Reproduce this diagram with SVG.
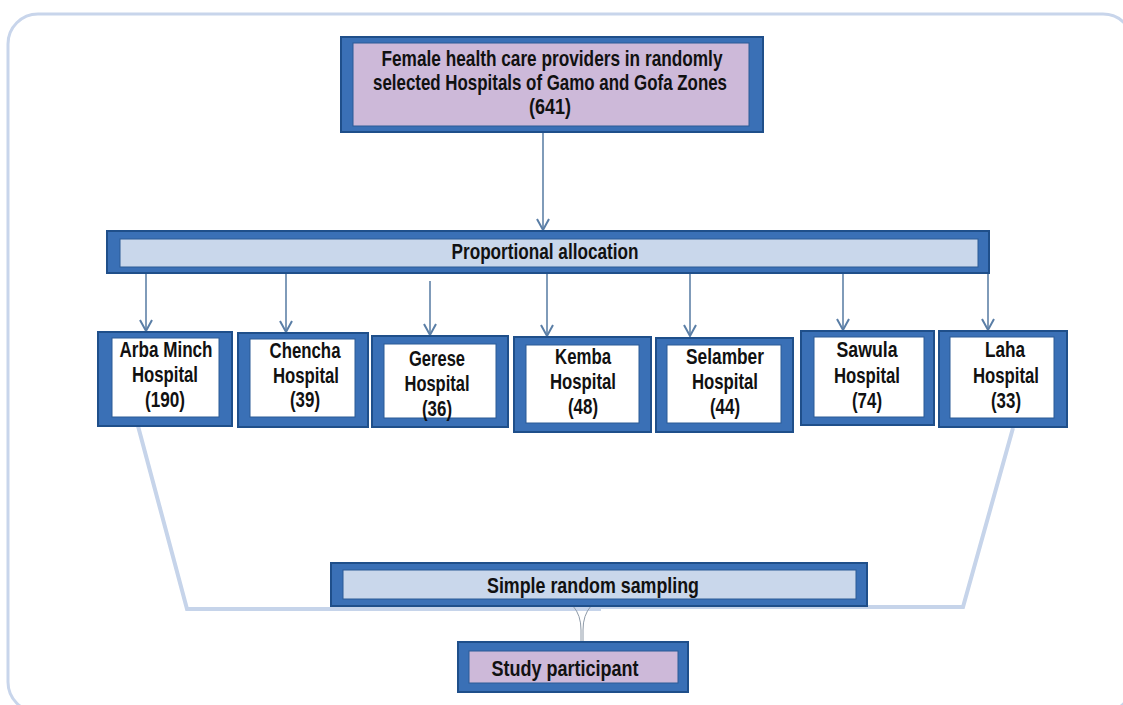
<svg xmlns="http://www.w3.org/2000/svg" width="1123" height="705" viewBox="0 0 1123 705">
<defs>
<style>
.frame{fill:none;stroke:#c8d5eb;stroke-width:3}
.outer{fill:#3a70b6;stroke:#1f4f8a;stroke-width:2}
.purple{fill:#cdb9d9;stroke:#2b5a95;stroke-width:1}
.white{fill:#ffffff;stroke:#2b5a95;stroke-width:1}
.lblue{fill:#c9d7eb;stroke:#2b5a95;stroke-width:1}
.t{font-family:"Liberation Sans Narrow","Liberation Sans",Arial,sans-serif;font-weight:bold;fill:#111;text-anchor:middle}
.t21{font-size:22px}
.t20{font-size:22px}
.ttop{font-size:21.5px}
.arrow{fill:none;stroke:#6082a8;stroke-width:1.6}
.head{fill:none;stroke:#5a7ea6;stroke-width:2;stroke-linejoin:miter}
.trap{fill:none;stroke:#c6d4ea;stroke-width:4;stroke-linejoin:miter}
.funnel{fill:none;stroke:#8e9aa8;stroke-width:1}
</style>
</defs>
<rect width="1123" height="705" fill="#ffffff"/>
<rect class="frame" x="8" y="14" width="1125" height="698" rx="30" ry="30"/>

<g id="connectors">
<line class="arrow" x1="543" y1="132" x2="543" y2="230"/>
<path class="head" d="M537,219 L543,230 L549,219"/>
<line class="arrow" x1="146" y1="273" x2="146" y2="331"/>
<path class="head" d="M140,320 L146,331 L152,320"/>
<line class="arrow" x1="286" y1="273" x2="286" y2="332"/>
<path class="head" d="M280,321 L286,332 L292,321"/>
<line class="arrow" x1="430" y1="281" x2="430" y2="335"/>
<path class="head" d="M424,324 L430,335 L436,324"/>
<line class="arrow" x1="547" y1="273" x2="547" y2="336"/>
<path class="head" d="M541,325 L547,336 L553,325"/>
<line class="arrow" x1="690" y1="273" x2="690" y2="336"/>
<path class="head" d="M684,325 L690,336 L696,325"/>
<line class="arrow" x1="843" y1="273" x2="843" y2="330"/>
<path class="head" d="M837,319 L843,330 L849,319"/>
<line class="arrow" x1="988" y1="273" x2="988" y2="330"/>
<path class="head" d="M982,319 L988,330 L994,319"/>
<polyline class="trap" points="138,426 187,609 601,609"/>
<polyline class="trap" points="601,607 963,607 1013,428"/>
<path class="funnel" d="M573,606 Q581,615 581,630 L581,642 M591,606 Q583,615 583,630 L583,642"/>
</g>

<g id="top-box">
<rect class="outer" x="341" y="37" width="422" height="95"/>
<rect class="purple" x="353" y="43" width="396" height="83"/>
<text class="t ttop" x="552" y="66" textLength="341" lengthAdjust="spacingAndGlyphs">Female health care providers in randomly</text>
<text class="t ttop" x="550" y="90" textLength="354" lengthAdjust="spacingAndGlyphs">selected Hospitals of Gamo and Gofa Zones</text>
<text class="t ttop" x="550" y="114" textLength="42" lengthAdjust="spacingAndGlyphs">(641)</text>
</g>

<g id="proportional-allocation">
<rect class="outer" x="107" y="231" width="882" height="42"/>
<rect class="lblue" x="120" y="239" width="858" height="28"/>
<text class="t t21" x="545" y="259" textLength="187" lengthAdjust="spacingAndGlyphs">Proportional allocation</text>
</g>

<g id="arba-minch">
<rect class="outer" x="98" y="332" width="134" height="94"/>
<rect class="white" x="112" y="338" width="107" height="79"/>
<text class="t t20" x="166" y="357" textLength="93" lengthAdjust="spacingAndGlyphs">Arba Minch</text>
<text class="t t20" x="165" y="382" textLength="66" lengthAdjust="spacingAndGlyphs">Hospital</text>
<text class="t t20" x="165" y="407" textLength="40" lengthAdjust="spacingAndGlyphs">(190)</text>
</g>

<g id="chencha">
<rect class="outer" x="238" y="333" width="130" height="94"/>
<rect class="white" x="250" y="339" width="105" height="78"/>
<text class="t t20" x="305" y="358" textLength="71" lengthAdjust="spacingAndGlyphs">Chencha</text>
<text class="t t20" x="306" y="383" textLength="66" lengthAdjust="spacingAndGlyphs">Hospital</text>
<text class="t t20" x="305" y="407" textLength="30" lengthAdjust="spacingAndGlyphs">(39)</text>
</g>

<g id="gerese">
<rect class="outer" x="372" y="336" width="136" height="91"/>
<rect class="white" x="384" y="344" width="112" height="74"/>
<text class="t t20" x="437" y="366" textLength="56" lengthAdjust="spacingAndGlyphs">Gerese</text>
<text class="t t20" x="437" y="391" textLength="65" lengthAdjust="spacingAndGlyphs">Hospital</text>
<text class="t t20" x="437" y="416" textLength="30" lengthAdjust="spacingAndGlyphs">(36)</text>
</g>

<g id="kemba">
<rect class="outer" x="514" y="337" width="137" height="95"/>
<rect class="white" x="526" y="345" width="113" height="78"/>
<text class="t t20" x="583" y="364" textLength="56" lengthAdjust="spacingAndGlyphs">Kemba</text>
<text class="t t20" x="583" y="389" textLength="66" lengthAdjust="spacingAndGlyphs">Hospital</text>
<text class="t t20" x="583" y="414" textLength="30" lengthAdjust="spacingAndGlyphs">(48)</text>
</g>

<g id="selamber">
<rect class="outer" x="656" y="338" width="137" height="94"/>
<rect class="white" x="667" y="345" width="114" height="78"/>
<text class="t t20" x="725" y="364" textLength="78" lengthAdjust="spacingAndGlyphs">Selamber</text>
<text class="t t20" x="725" y="389" textLength="66" lengthAdjust="spacingAndGlyphs">Hospital</text>
<text class="t t20" x="725" y="414" textLength="30" lengthAdjust="spacingAndGlyphs">(44)</text>
</g>

<g id="sawula">
<rect class="outer" x="801" y="331" width="133" height="94"/>
<rect class="white" x="814" y="337" width="110" height="80"/>
<text class="t t20" x="867" y="357" textLength="61" lengthAdjust="spacingAndGlyphs">Sawula</text>
<text class="t t20" x="867" y="383" textLength="66" lengthAdjust="spacingAndGlyphs">Hospital</text>
<text class="t t20" x="867" y="408" textLength="30" lengthAdjust="spacingAndGlyphs">(74)</text>
</g>

<g id="laha">
<rect class="outer" x="939" y="331" width="128" height="96"/>
<rect class="white" x="950" y="337" width="104" height="81"/>
<text class="t t20" x="1005" y="357" textLength="40" lengthAdjust="spacingAndGlyphs">Laha</text>
<text class="t t20" x="1006" y="383" textLength="66" lengthAdjust="spacingAndGlyphs">Hospital</text>
<text class="t t20" x="1006" y="408" textLength="30" lengthAdjust="spacingAndGlyphs">(33)</text>
</g>

<g id="simple-random-sampling">
<rect class="outer" x="331" y="563" width="536" height="43"/>
<rect class="lblue" x="343" y="570" width="513" height="29"/>
<text class="t t21" x="593" y="593" textLength="212" lengthAdjust="spacingAndGlyphs">Simple random sampling</text>
</g>

<g id="study-participant">
<rect class="outer" x="458" y="642" width="230" height="50"/>
<rect class="purple" x="469" y="651" width="209" height="32"/>
<text class="t t21" x="565" y="676" textLength="147" lengthAdjust="spacingAndGlyphs">Study participant</text>
</g>
</svg>
